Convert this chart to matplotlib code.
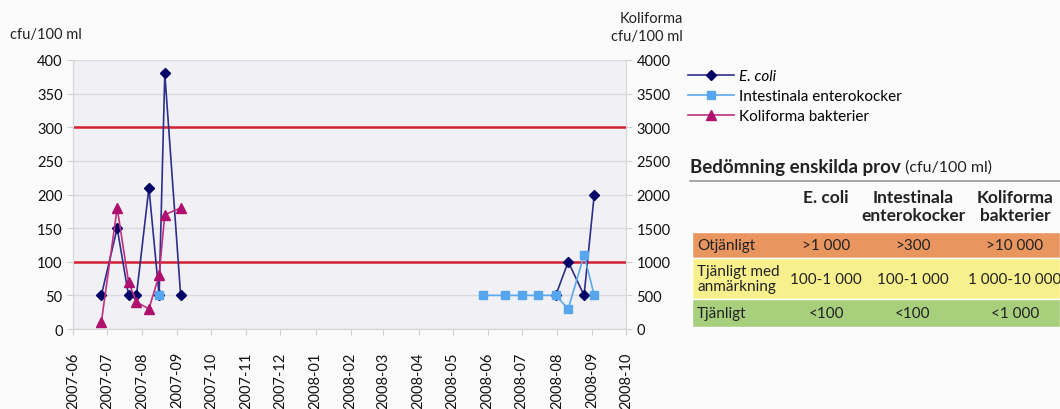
import numpy as np
import matplotlib
matplotlib.use("Agg")
import matplotlib.pyplot as plt
import matplotlib.dates as mdates
from matplotlib.patches import Rectangle
from matplotlib.lines import Line2D
import pandas as pd

plt.rcParams['font.family'] = ['Lato', 'DejaVu Sans']

# sampling dates (2007 and 2008 bathing seasons)
dates = pd.to_datetime([
    "2007-06-26", "2007-07-10", "2007-07-20", "2007-07-27", "2007-08-07",
    "2007-08-16", "2007-08-21", "2007-09-04",
    "2008-05-28", "2008-06-16", "2008-07-01", "2008-07-15", "2008-07-31",
    "2008-08-11", "2008-08-25", "2008-09-03",
])
nan = np.nan
ecoli = [50, 150, 50, 50, 210, 50, 380, 50,
         nan, nan, nan, nan, 50, 100, 50, 200]
entero = [nan, nan, nan, nan, nan, 50, nan, nan,
          50, 50, 50, 50, 50, 30, 110, 50]
koliforma = [100, 1800, 700, 400, 300, 800, 1700, 1800,
             nan, nan, nan, nan, nan, nan, nan, nan]

limits = [100, 300]

table_cols = ["E. coli", "Intestinala\nenterokocker", "Koliforma\nbakterier"]
table_rows = ["Otjänligt", "Tjänligt med\nanmärkning", "Tjänligt"]
table_vals = [
    [">1 000", ">300", ">10 000"],
    ["100-1 000", "100-1 000", "1 000-10 000"],
    ["<100", "<100", "<1 000"],
]
row_colors = ["#e9955f", "#f7f08c", "#a7cf7c"]

fig = plt.figure(figsize=(10.6, 4.1), dpi=100)
fig.patch.set_facecolor("#fbfbfb")
W, H = 1060, 410

def fx(px):
    return px / W

def fy(py):
    return 1 - py / H

ax = fig.add_axes([fx(73), fy(330), fx(626) - fx(73), fy(61) - fy(330)])
ax.set_facecolor("#f0f0f5")
ax2 = ax.twinx()

l1, = ax.plot(dates, ecoli, color="#2e2e8a", lw=1.2, marker="D", ms=5.5,
              mfc="#000066", mec="#000066", label="E. coli", zorder=4)
l2, = ax.plot(dates, entero, color="#5aa8ee", lw=1.2, marker="s", ms=5.5,
              mfc="#55a5ef", mec="#55a5ef", label="Intestinala enterokocker", zorder=5)
for v in limits:
    ax.axhline(v, color="#d42030", lw=1.8, zorder=3)
l3, = ax2.plot(dates, koliforma, color="#c0307f", lw=1.2, marker="^", ms=7,
               mfc="#b0106e", mec="#b0106e", label="Koliforma bakterier", zorder=4)

ax.set_ylim(0, 400)
ax.set_yticks(np.arange(0, 401, 50))
ax2.set_ylim(0, 4000)
ax2.set_yticks(np.arange(0, 4001, 500))
ax.set_xlim(pd.Timestamp("2007-06-01"), pd.Timestamp("2008-10-01"))
ax.xaxis.set_major_locator(mdates.MonthLocator())
ax.xaxis.set_major_formatter(mdates.DateFormatter("%Y-%m"))
plt.setp(ax.get_xticklabels(), rotation=90)

ax.grid(axis="y", color="#dadade", lw=1)
ax.set_axisbelow(True)
for a in (ax, ax2):
    for s in a.spines.values():
        s.set_color("#d8d8d8")
    a.spines["top"].set_visible(False)
    a.tick_params(colors="#d0d0d0", labelcolor="#111111", labelsize=10.5, length=4)
ax.tick_params(axis="x", pad=12)

# axis titles
fig.text(fx(10), fy(35), "cfu/100 ml", fontsize=10.5, color="#222222", va="center")
fig.text(fx(683), fy(28), "Koliforma\ncfu/100 ml", fontsize=10.5, color="#222222",
         va="center", ha="right", linespacing=1.3)

# legend
fig.legend(handles=[l1, l2, l3], loc="upper left", bbox_to_anchor=(fx(682), fy(64)),
           frameon=False, fontsize=11, handlelength=3.0, handletextpad=0.3,
           labelspacing=0.4, borderaxespad=0)
fig.legends[0].get_texts()[0].set_fontstyle("italic")

# assessment table
title = fig.text(fx(690), fy(168), "Bedömning enskilda prov", fontsize=13.5,
                 fontweight="bold", color="#222222", va="center")
ax.annotate(" (cfu/100 ml)", xy=(1, 0.5), xycoords=title, fontsize=11.5,
            color="#222222", va="center", ha="left", annotation_clip=False)
fig.add_artist(Line2D([fx(690), 1], [fy(182), fy(182)], color="#999999", lw=1.2))

col_x = [826, 913, 1015]
for cx, name in zip(col_x, table_cols):
    fig.text(fx(cx), fy(190), name, fontsize=12.5, fontweight="bold", color="#222222",
             ha="center", va="top", linespacing=1.15)

row_y = [(233, 259), (259, 300), (300, 328)]
for (y0, y1), col, lab, vals in zip(row_y, row_colors, table_rows, table_vals):
    fig.add_artist(Rectangle((fx(692), fy(y1)), 1 - fx(692), fy(y0) - fy(y1),
                             transform=fig.transFigure, facecolor=col,
                             edgecolor="white", lw=1))
    ym = fy((y0 + y1) / 2)
    fig.text(fx(697), ym, lab, fontsize=11, color="#222222", va="center",
             linespacing=1.05)
    for cx, v in zip(col_x, vals):
        fig.text(fx(cx), ym, v, fontsize=11, color="#222222", ha="center", va="center")

fig.savefig("out.png", dpi=100, facecolor=fig.get_facecolor())
